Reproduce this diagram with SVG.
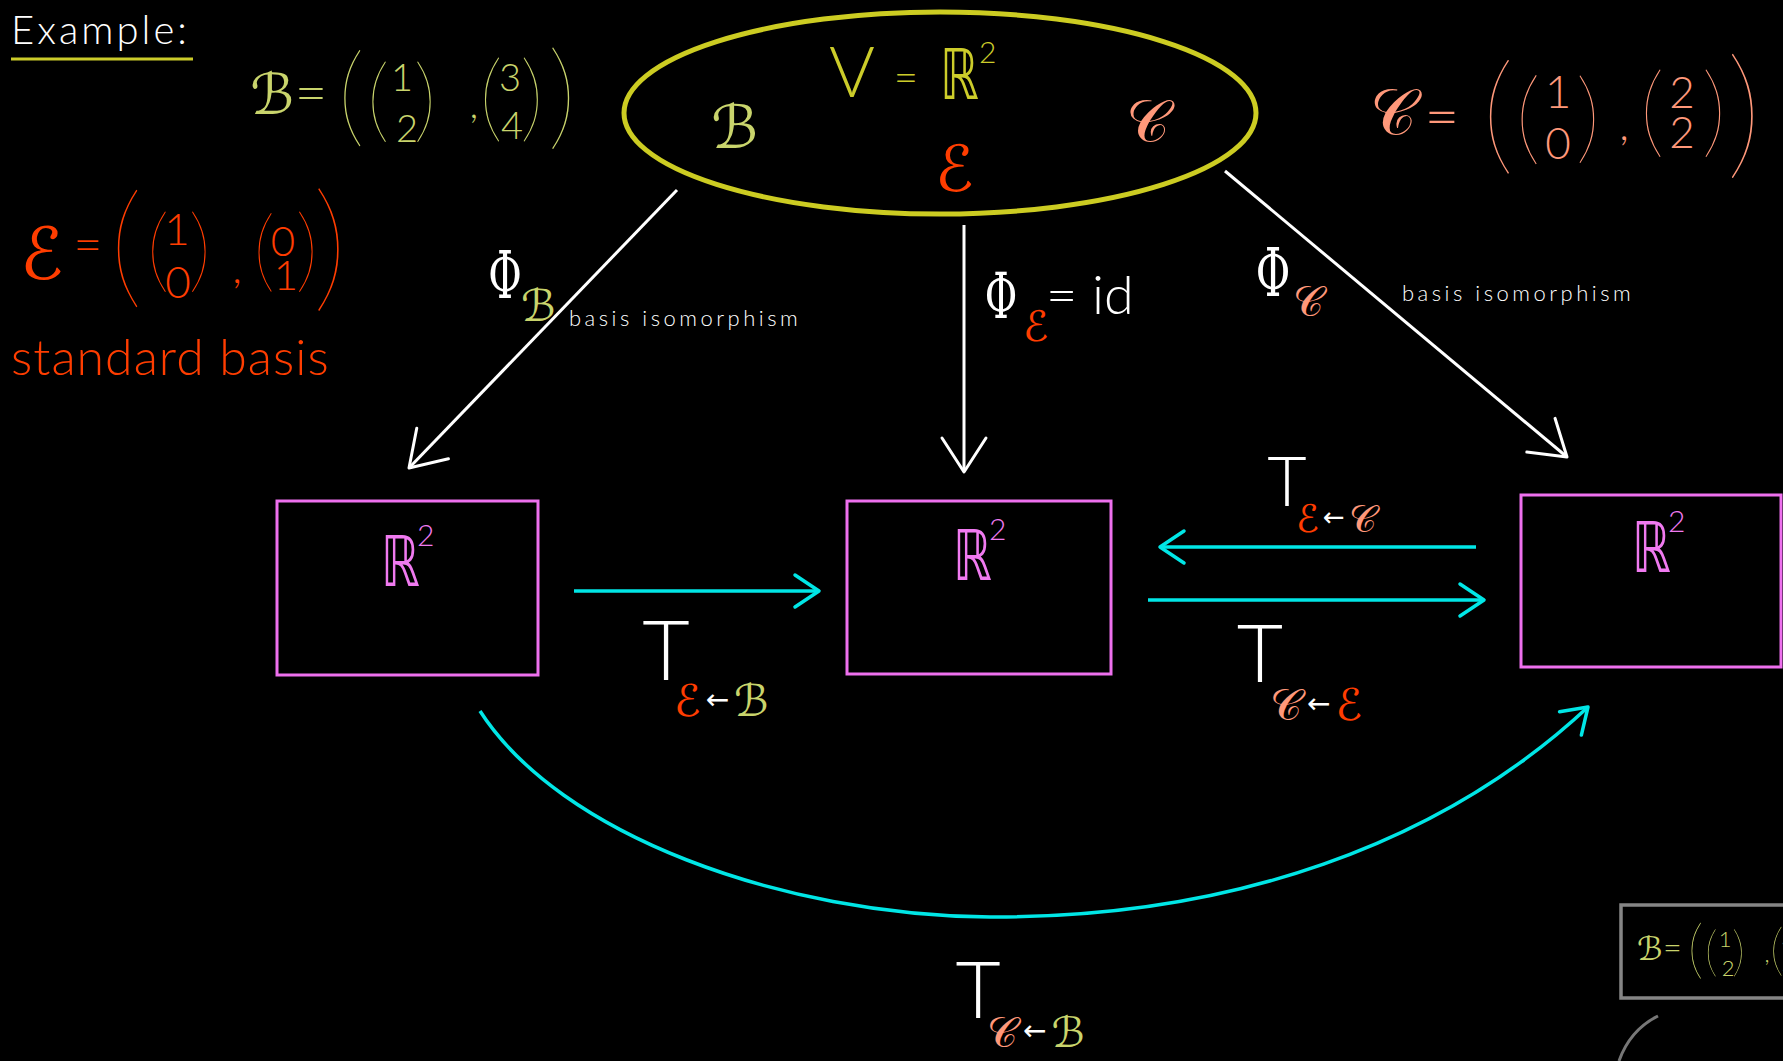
<svg xmlns="http://www.w3.org/2000/svg" xmlns:xlink="http://www.w3.org/1999/xlink" width="1783" height="1061" viewBox="0 0 1783 1061">
<defs>
<style>
.hw{font-family:Lato,"DejaVu Sans",sans-serif;font-weight:300}
.par{font-family:Lato,"DejaVu Sans",sans-serif;font-weight:200;text-anchor:middle}
.dg{font-family:Lato,"DejaVu Sans",sans-serif;font-weight:300;text-anchor:middle}
.sc{font-family:"DejaVu Sans","DejaVu Serif",sans-serif}
.phi{font-family:"DejaVu Serif","Liberation Serif",serif;text-anchor:middle}
.tt{font-family:Lato,"DejaVu Sans",sans-serif;font-weight:300;text-anchor:middle;fill:#fff}
.w{fill:#ffffff}
.gb{fill:#c9d46c}
.ye{fill:#cccc2a}
.re{fill:#ff3d00}
.sa{fill:#ff987a}
.mg{fill:#f07af0}
.box{fill:none;stroke:#ee70ee;stroke-width:3}
.wl{stroke:#fff;stroke-width:3;fill:none}
.cl{stroke:#00e6e6;stroke-width:3.5;fill:none}
</style>
<marker id="aw" viewBox="-40 -26 44 52" refX="0" refY="0" markerWidth="44" markerHeight="52" markerUnits="userSpaceOnUse" orient="auto">
<path d="M-34,-22 L0,0 L-34,22" fill="none" stroke="#fff" stroke-width="3" stroke-linecap="round" stroke-linejoin="round"/>
</marker>
<marker id="ac" viewBox="-30 -20 34 40" refX="0" refY="0" markerWidth="34" markerHeight="40" markerUnits="userSpaceOnUse" orient="auto">
<path d="M-24,-16 L0,0 L-24,16" fill="none" stroke="#00e6e6" stroke-width="3.5" stroke-linecap="round" stroke-linejoin="round"/>
</marker>
</defs>
<rect x="0" y="0" width="1783" height="1061" fill="#000"/>

<g id="title">
<text class="hw w" x="11" y="44" font-size="40" letter-spacing="3">Example:</text>
<line x1="11" y1="59" x2="193" y2="59" stroke="#cccc2a" stroke-width="3"/>
</g>

<g id="formula-B">
<text class="sc gb" x="250" y="114" font-size="56">ℬ</text>
<text class="dg gb" x="311" y="112" font-size="56">=</text>
<g class="gb">
<text class="par" x="351" y="133" font-size="110">(</text>
<text class="par" x="378" y="131" font-size="92">(</text>
<text class="dg" x="402" y="91" font-size="38">1</text>
<text class="dg" x="407" y="142" font-size="38">2</text>
<text class="par" x="425" y="131" font-size="92">)</text>
<text class="dg" x="474" y="118" font-size="40">,</text>
<text class="par" x="491" y="130" font-size="97">(</text>
<text class="dg" x="510" y="91" font-size="38">3</text>
<text class="dg" x="512" y="139" font-size="38">4</text>
<text class="par" x="532" y="130" font-size="97">)</text>
<text class="par" x="562" y="135" font-size="116">)</text>
</g>
</g>

<g id="formula-E" class="re">
<text class="sc" x="20" y="279" font-size="72">ℰ</text>
<text class="dg" x="88" y="262" font-size="50">=</text>
<text class="par" x="126" y="291" font-size="134">(</text>
<text class="par" x="158" y="281" font-size="93">(</text>
<text class="dg" x="177" y="245" font-size="44">1</text>
<text class="dg" x="178" y="298" font-size="44">0</text>
<text class="par" x="200" y="281" font-size="93">)</text>
<text class="dg" x="237" y="283" font-size="44">,</text>
<text class="par" x="264" y="281" font-size="90">(</text>
<text class="dg" x="283" y="256" font-size="42">0</text>
<text class="dg" x="286" y="290" font-size="42">1</text>
<text class="par" x="307" y="281" font-size="93">)</text>
<text class="par" x="330" y="294" font-size="140">)</text>
<text class="hw" x="11" y="375" font-size="50" letter-spacing="1">standard basis</text>
</g>

<g id="formula-C" class="sa">
<text class="sc" x="1370" y="134" font-size="64">𝒞</text>
<text class="dg" x="1442" y="137" font-size="60">=</text>
<text class="par" x="1498" y="158" font-size="131">(</text>
<text class="par" x="1528" y="152" font-size="103">(</text>
<text class="dg" x="1558" y="108" font-size="46">1</text>
<text class="dg" x="1558" y="159" font-size="44">0</text>
<text class="par" x="1588" y="151" font-size="100">)</text>
<text class="dg" x="1624" y="140" font-size="44">,</text>
<text class="par" x="1652" y="145" font-size="100">(</text>
<text class="dg" x="1682" y="108" font-size="44">2</text>
<text class="dg" x="1682" y="148" font-size="44">2</text>
<text class="par" x="1714" y="145" font-size="100">)</text>
<text class="par" x="1744" y="161" font-size="143">)</text>
</g>

<g id="node-V">
<ellipse cx="940" cy="113" rx="316" ry="101" fill="none" stroke="#cccc22" stroke-width="5"/>
<text class="hw ye" x="852" y="97" font-size="70" text-anchor="middle">V</text>
<text class="dg ye" x="906" y="92" font-size="42">=</text>
<text class="sc ye" font-size="70" transform="translate(940,99) scale(0.7,1)">ℝ</text>
<text class="hw ye" x="979" y="63" font-size="30">2</text>
<text class="sc gb" x="711" y="148" font-size="60">ℬ</text>
<text class="sc sa" x="1126" y="142" font-size="60">𝒞</text>
<text class="sc re" x="935" y="191" font-size="64">ℰ</text>
</g>

<g id="node-R2-B">
<rect class="box" x="277" y="501" width="261" height="174"/>
<text class="sc mg" font-size="70" transform="translate(381,586) scale(0.7,1)">ℝ</text>
<text class="hw mg" x="417" y="546" font-size="30">2</text>
</g>
<g id="node-R2-E">
<rect class="box" x="847" y="501" width="264" height="173"/>
<text class="sc mg" font-size="70" transform="translate(953,580) scale(0.7,1)">ℝ</text>
<text class="hw mg" x="989" y="540" font-size="30">2</text>
</g>
<g id="node-R2-C">
<rect class="box" x="1521" y="495" width="260" height="172"/>
<text class="sc mg" font-size="70" transform="translate(1632,572) scale(0.7,1)">ℝ</text>
<text class="hw mg" x="1668" y="532" font-size="30">2</text>
</g>

<g id="connectors">
<line class="wl" x1="677" y1="190" x2="409" y2="468" marker-end="url(#aw)"/>
<line class="wl" x1="964" y1="225" x2="964" y2="472" marker-end="url(#aw)"/>
<line class="wl" x1="1225" y1="171" x2="1567" y2="457" marker-end="url(#aw)"/>
<line class="cl" x1="574" y1="591" x2="819" y2="591" marker-end="url(#ac)"/>
<line class="cl" x1="1476" y1="547" x2="1160" y2="547" marker-end="url(#ac)"/>
<line class="cl" x1="1148" y1="600" x2="1484" y2="600" marker-end="url(#ac)"/>
<path class="cl" d="M480,711 C560,835 780,915 990,917 C1230,918 1440,845 1588,707" marker-end="url(#ac)"/>
</g>

<g id="label-phi-B">
<text class="phi w" font-size="66" transform="translate(505,298) scale(0.62,1)">Φ</text>
<text class="sc gb" x="521" y="321" font-size="44">ℬ</text>
<text class="hw w" x="569" y="326" font-size="22" letter-spacing="3.5">basis isomorphism</text>
</g>
<g id="label-phi-E">
<text class="phi w" font-size="64" transform="translate(1001,318) scale(0.62,1)">Φ</text>
<text class="sc re" x="1023" y="341" font-size="42">ℰ</text>
<text class="hw w" x="1046" y="314" font-size="54">= id</text>
</g>
<g id="label-phi-C">
<text class="phi w" font-size="68" transform="translate(1273,296) scale(0.62,1)">Φ</text>
<text class="sc sa" x="1293" y="316" font-size="42">𝒞</text>
<text class="hw w" x="1402" y="301" font-size="22" letter-spacing="3.5">basis isomorphism</text>
</g>

<g id="label-T-EB">
<text class="tt" x="666" y="680" font-size="82">T</text>
<text class="sc" x="674" y="716" font-size="44"><tspan class="re">ℰ</tspan><tspan class="w" font-size="28" dx="5" dy="-7">←</tspan><tspan class="gb" dx="5" dy="7">ℬ</tspan></text>
</g>
<g id="label-T-EC">
<text class="tt" x="1287" y="506" font-size="68">T</text>
<text class="sc" x="1296" y="532" font-size="38"><tspan class="re">ℰ</tspan><tspan class="w" font-size="26" dx="4" dy="-6">←</tspan><tspan class="sa" dx="4" dy="6">𝒞</tspan></text>
</g>
<g id="label-T-CE">
<text class="tt" x="1260" y="682" font-size="80">T</text>
<text class="sc" x="1270" y="720" font-size="44"><tspan class="sa">𝒞</tspan><tspan class="w" font-size="28" dx="5" dy="-7">←</tspan><tspan class="re" dx="5" dy="7">ℰ</tspan></text>
</g>
<g id="label-T-CB">
<text class="tt" x="978" y="1018" font-size="78">T</text>
<text class="sc" x="987" y="1047" font-size="42"><tspan class="sa">𝒞</tspan><tspan class="w" font-size="28" dx="5" dy="-7">←</tspan><tspan class="gb" dx="5" dy="7">ℬ</tspan></text>
</g>

<g id="inset">
<rect x="1621" y="905" width="200" height="93" fill="none" stroke="#858585" stroke-width="3.5"/>
<use xlink:href="#formula-B" href="#formula-B" transform="translate(1492,894) scale(0.58)"/>
<path d="M1658,1016 Q1630,1030 1619,1061" fill="none" stroke="#777" stroke-width="3"/>
</g>
</svg>
